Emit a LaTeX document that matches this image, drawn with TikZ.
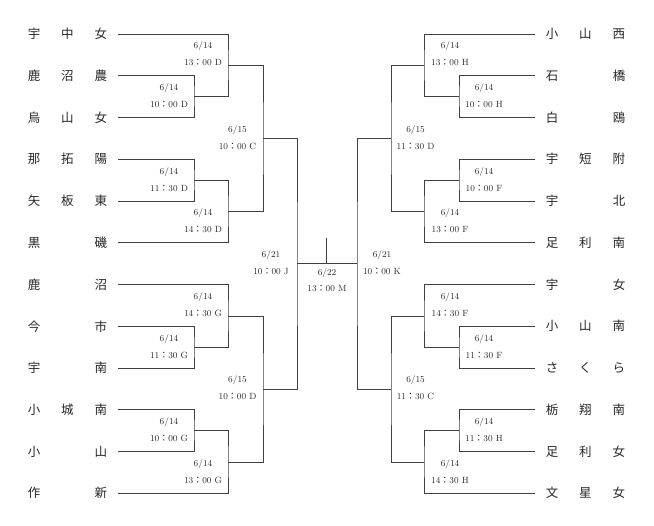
\documentclass[tikz,border=0pt]{standalone}
\usepackage{fontspec}
\newfontfamily\cjk{Noto Sans CJK JP}
\tikzset{
  conn/.style={draw=black!75, line width=0.6pt},
  team/.style={inner sep=0pt, font=\cjk\fontsize{12.5}{14}\selectfont, text=black!85},
  lbl/.style={anchor=base, inner sep=0pt, font=\fontsize{9}{10}\selectfont, text=black!85}
}
\newcommand\tmx[2]{#1{\cjk ：}#2}
\newcommand\teamnode[6]{\node[team] (#1) at (#2,#3) {\makebox[33.5pt]{#4}\makebox[33.5pt]{#5}\makebox[33.5pt]{#6}};}
\newcommand\matchlbl[5]{\node[lbl] (#1d) at (#2,{#3-6}) {#4}; \node[lbl] (#1t) at (#2,{#3+11}) {#5};}
\begin{document}
\begin{tikzpicture}[x=1pt,y=-1pt]
\useasboundingbox (0,0) rectangle (654,526);
% left teams
\teamnode{L1}{67.5}{34}{宇}{中}{女}
\teamnode{L2}{67.5}{75.75}{鹿}{沼}{農}
\teamnode{L3}{67.5}{117.5}{烏}{山}{女}
\teamnode{L4}{67.5}{159.25}{那}{拓}{陽}
\teamnode{L5}{67.5}{201}{矢}{板}{東}
\teamnode{L6}{67.5}{242.75}{黒}{}{磯}
\teamnode{L7}{67.5}{284.5}{鹿}{}{沼}
\teamnode{L8}{67.5}{326.25}{今}{}{市}
\teamnode{L9}{67.5}{368}{宇}{}{南}
\teamnode{L10}{67.5}{409.75}{小}{城}{南}
\teamnode{L11}{67.5}{451.5}{小}{}{山}
\teamnode{L12}{67.5}{493.25}{作}{}{新}
% right teams
\teamnode{R1}{585.5}{34}{小}{山}{西}
\teamnode{R2}{585.5}{75.75}{石}{}{橋}
\teamnode{R3}{585.5}{117.5}{白}{}{鴎}
\teamnode{R4}{585.5}{159.25}{宇}{短}{附}
\teamnode{R5}{585.5}{201}{宇}{}{北}
\teamnode{R6}{585.5}{242.75}{足}{利}{南}
\teamnode{R7}{585.5}{284.5}{宇}{}{女}
\teamnode{R8}{585.5}{326.25}{小}{山}{南}
\teamnode{R9}{585.5}{368}{さ}{く}{ら}
\teamnode{R10}{585.5}{409.75}{栃}{翔}{南}
\teamnode{R11}{585.5}{451.5}{足}{利}{女}
\teamnode{R12}{585.5}{493.25}{文}{星}{女}
% left joints
\coordinate (la23) at (194,96.625);
\coordinate (la45) at (194,180.125);
\coordinate (la89) at (194,347.125);
\coordinate (la1011) at (194,430.625);
\coordinate (lb1) at (228,65.3125);
\coordinate (lb2) at (228,211.4375);
\coordinate (lb3) at (228,315.8125);
\coordinate (lb4) at (228,461.9375);
\coordinate (lc1) at (263,138.375);
\coordinate (lc2) at (263,388.875);
\coordinate (ld) at (297,263.625);
% right joints
\coordinate (ra23) at (459,96.625);
\coordinate (ra45) at (459,180.125);
\coordinate (ra89) at (459,347.125);
\coordinate (ra1011) at (459,430.625);
\coordinate (rb1) at (424,65.3125);
\coordinate (rb2) at (424,211.4375);
\coordinate (rb3) at (424,315.8125);
\coordinate (rb4) at (424,461.9375);
\coordinate (rc1) at (391,138.375);
\coordinate (rc2) at (391,388.875);
\coordinate (rd) at (357,263.625);
\coordinate (ctop) at (326.5,238);
\coordinate (cmid) at (326.5,263.625);
% left bracket
\draw[conn] (L2.east) -| (la23) |- (L3.east);
\draw[conn] (L4.east) -| (la45) |- (L5.east);
\draw[conn] (L8.east) -| (la89) |- (L9.east);
\draw[conn] (L10.east) -| (la1011) |- (L11.east);
\draw[conn] (L1.east) -| (lb1) |- (la23);
\draw[conn] (la45) -| (lb2) |- (L6.east);
\draw[conn] (L7.east) -| (lb3) |- (la89);
\draw[conn] (la1011) -| (lb4) |- (L12.east);
\draw[conn] (lb1) -| (lc1) |- (lb2);
\draw[conn] (lb3) -| (lc2) |- (lb4);
\draw[conn] (lc1) -| (ld) |- (lc2);
% right bracket
\draw[conn] (R2.west) -| (ra23) |- (R3.west);
\draw[conn] (R4.west) -| (ra45) |- (R5.west);
\draw[conn] (R8.west) -| (ra89) |- (R9.west);
\draw[conn] (R10.west) -| (ra1011) |- (R11.west);
\draw[conn] (R1.west) -| (rb1) |- (ra23);
\draw[conn] (ra45) -| (rb2) |- (R6.west);
\draw[conn] (R7.west) -| (rb3) |- (ra89);
\draw[conn] (ra1011) -| (rb4) |- (R12.west);
\draw[conn] (rb1) -| (rc1) |- (rb2);
\draw[conn] (rb3) -| (rc2) |- (rb4);
\draw[conn] (rc1) -| (rd) |- (rc2);
% centre
\draw[conn] (ld) -- (rd);
\draw[conn] (ctop) -- (cmid);
% left labels
\matchlbl{l12}{203}{54.875}{6/14}{\tmx{13}{00 D}}
\matchlbl{l23}{169}{96.625}{6/14}{\tmx{10}{00 D}}
\matchlbl{l34}{237.5}{138.375}{6/15}{\tmx{10}{00 C}}
\matchlbl{l45}{169}{180.125}{6/14}{\tmx{11}{30 D}}
\matchlbl{l56}{203}{221.875}{6/14}{\tmx{14}{30 D}}
\matchlbl{l67}{271}{263.625}{6/21}{\tmx{10}{00 J}}
\matchlbl{l78}{203}{305.375}{6/14}{\tmx{14}{30 G}}
\matchlbl{l89}{169}{347.125}{6/14}{\tmx{11}{30 G}}
\matchlbl{l910}{237.5}{388.875}{6/15}{\tmx{10}{00 D}}
\matchlbl{l1011}{169}{430.625}{6/14}{\tmx{10}{00 G}}
\matchlbl{l1112}{203}{472.375}{6/14}{\tmx{13}{00 G}}
% right labels
\matchlbl{r12}{450}{54.875}{6/14}{\tmx{13}{00 H}}
\matchlbl{r23}{484}{96.625}{6/14}{\tmx{10}{00 H}}
\matchlbl{r34}{415.5}{138.375}{6/15}{\tmx{11}{30 D}}
\matchlbl{r45}{484}{180.125}{6/14}{\tmx{10}{00 F}}
\matchlbl{r56}{450}{221.875}{6/14}{\tmx{13}{00 F}}
\matchlbl{r67}{382}{263.625}{6/21}{\tmx{10}{00 K}}
\matchlbl{r78}{450}{305.375}{6/14}{\tmx{14}{30 F}}
\matchlbl{r89}{484}{347.125}{6/14}{\tmx{11}{30 F}}
\matchlbl{r910}{415.5}{388.875}{6/15}{\tmx{11}{30 C}}
\matchlbl{r1011}{484}{430.625}{6/14}{\tmx{11}{30 H}}
\matchlbl{r1112}{450}{472.375}{6/14}{\tmx{14}{30 H}}
% final
\node[lbl] (fd) at (327,275.1) {6/22};
\node[lbl] (ft) at (327,291.1) {\tmx{13}{00 M}};
\end{tikzpicture}
\end{document}
